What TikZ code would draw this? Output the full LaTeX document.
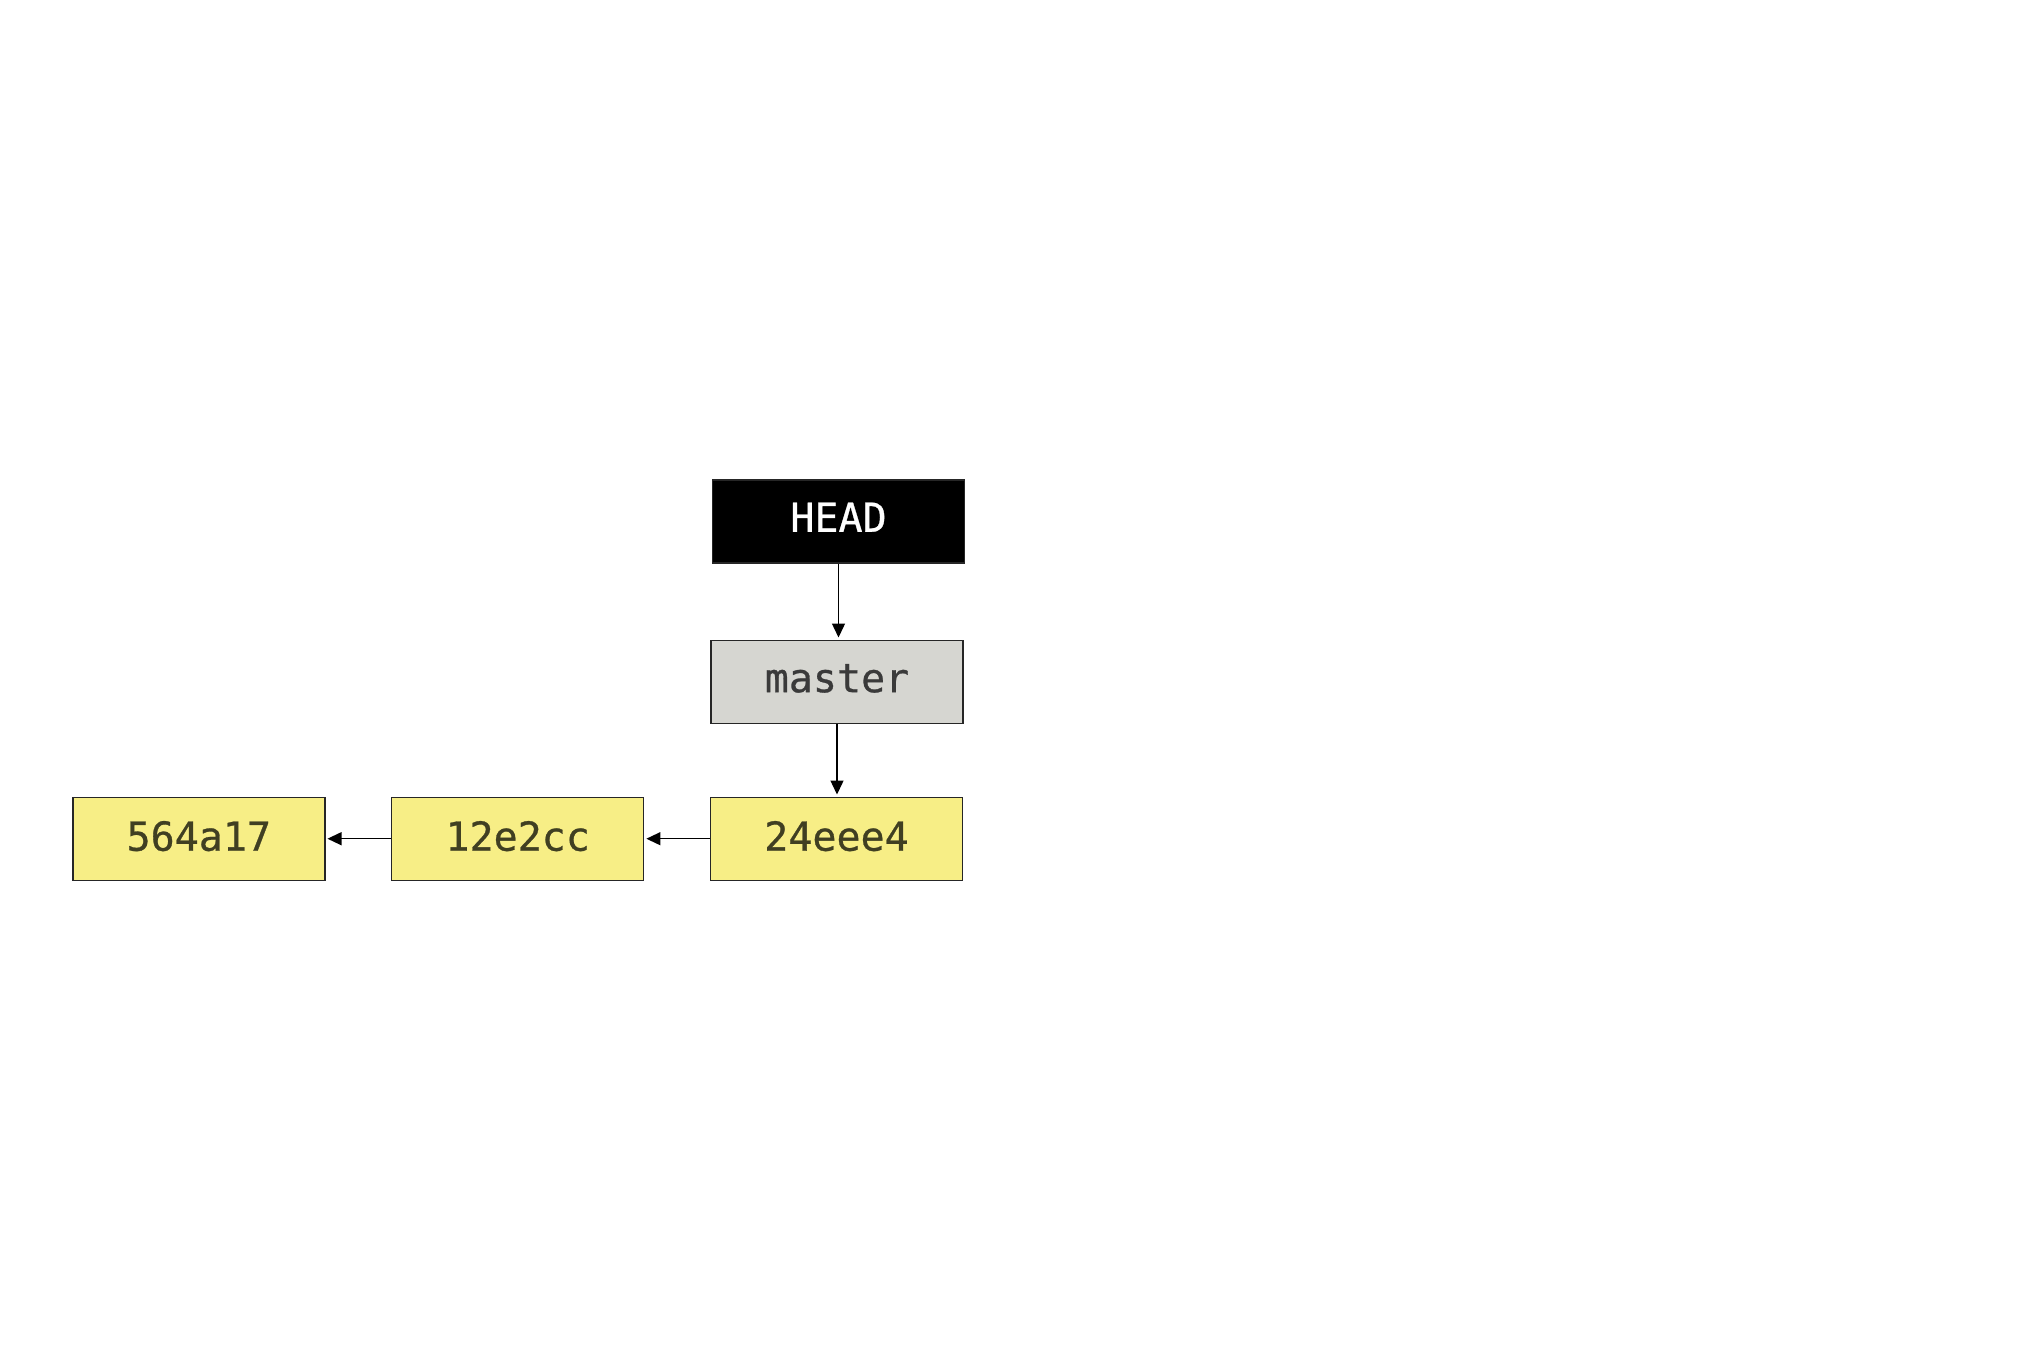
\documentclass[tikz,border=0pt]{standalone}
\usepackage{fontspec}
\newfontfamily\boxmono[FakeBold=0.7]{DejaVu Sans Mono}
\usetikzlibrary{arrows.meta}
\definecolor{commitfill}{HTML}{F7EE86}
\definecolor{committext}{HTML}{403F22}
\definecolor{branchfill}{HTML}{D6D6D1}
\definecolor{branchtext}{HTML}{3A3A3A}
\begin{document}
\begin{tikzpicture}[x=1pt,y=-1pt,
  box/.style={draw=black!85,line width=1.4pt,minimum width=252pt,minimum height=83pt,inner sep=0pt,text height=21pt,text depth=0pt,font=\fontsize{40}{42}\selectfont\boxmono},
  commit/.style={box,fill=commitfill,text=committext,text height=24pt},
  branch/.style={box,fill=branchfill,text=branchtext},
  headbox/.style={box,fill=black,text=white},
  link/.style={line width=1.4pt,-{Triangle[length=14pt,width=13pt]},shorten >=2pt}]
\useasboundingbox (0,0) rectangle (2025,1350);
\fill[white] (0,0) rectangle (2025,1350);
\node[headbox] (head) at (838.5,521.3) {HEAD};
\node[branch] (master) at (837,681.7) {master};
\node[commit] (c3) at (836.5,838.7) {24eee4};
\node[commit] (c2) at (517.7,838.7) {12e2cc};
\node[commit] (c1) at (198.8,838.7) {564a17};
\draw[link] (head.south) -- (head.south |- master.north);
\draw[link] (master.south) -- (master.south |- c3.north);
\draw[link] (c3.west) -- (c2.east);
\draw[link] (c2.west) -- (c1.east);
\end{tikzpicture}
\end{document}
